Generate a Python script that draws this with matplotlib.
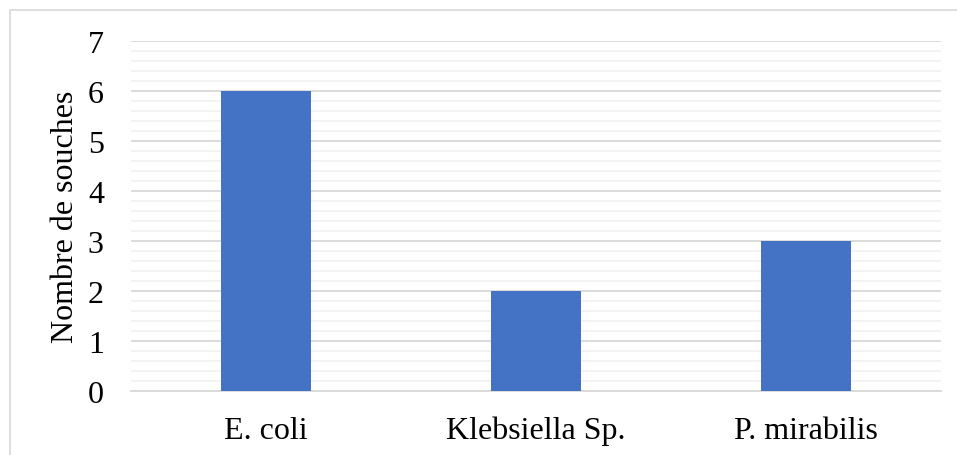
import matplotlib
matplotlib.use("Agg")
import matplotlib.pyplot as plt
from matplotlib.patches import Rectangle
from matplotlib.ticker import MultipleLocator

categories = ["E. coli", "Klebsiella Sp.", "P. mirabilis"]
values = [6, 2, 3]
y_label = "Nombre de souches"

plt.rcParams["font.family"] = ["Liberation Serif", "DejaVu Serif"]

fig = plt.figure(figsize=(9.57, 4.56), dpi=100)
W, H = 957, 456
left, right = 131 / W, 941 / W
bottom, top = 1 - 392 / H, 1 - 42 / H
ax = fig.add_axes([left, bottom, right - left, top - bottom])

# outer chart frame
fig.patches.append(Rectangle((9.5 / W, -0.01), 1.0, 1 - 11 / H + 0.01,
                             transform=fig.transFigure, fill=False,
                             edgecolor="#D9D9D9", linewidth=1.2))

x = range(len(categories))
ax.bar(x, values, width=0.333, color="#4472C4", zorder=3)

ax.set_xlim(-0.5, len(categories) - 0.5)
ax.set_ylim(0, 7)
ax.yaxis.set_major_locator(MultipleLocator(1))
ax.yaxis.set_minor_locator(MultipleLocator(0.2))
ax.grid(which="major", axis="y", color="#D9D9D9", linewidth=1.3, zorder=0)
ax.grid(which="minor", axis="y", color="#F2F2F2", linewidth=1.3, zorder=0)
ax.set_axisbelow(True)

for s in ("top", "right", "left"):
    ax.spines[s].set_visible(False)
ax.spines["bottom"].set_color("#D9D9D9")
ax.spines["bottom"].set_linewidth(1.3)

ax.set_xticks(list(x))
ax.set_xticklabels(categories)
ax.tick_params(axis="both", which="both", length=0, labelsize=23, colors="black")
ax.tick_params(axis="y", pad=19.5)
ax.tick_params(axis="x", pad=18)
ax.set_ylabel(y_label, fontsize=23, labelpad=6)

fig.savefig("out.png", dpi=100)
